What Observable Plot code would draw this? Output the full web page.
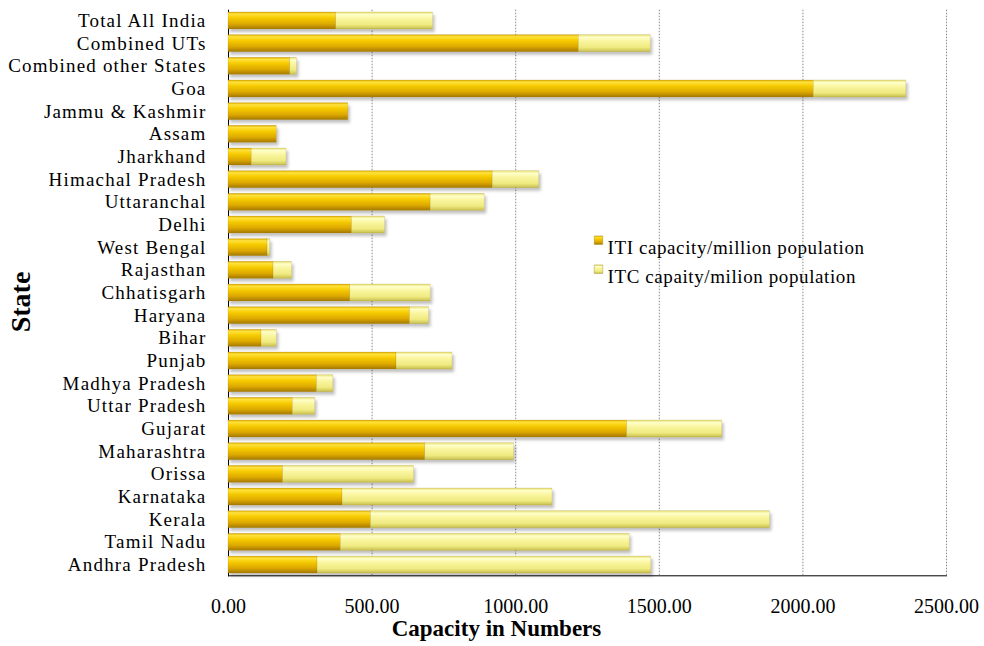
<!DOCTYPE html>
<html><head><meta charset="utf-8">
<script src="https://cdn.jsdelivr.net/npm/d3@7"></script>
<script src="https://cdn.jsdelivr.net/npm/@observablehq/plot@0.6"></script>
<style>body{margin:0;background:#fff}</style>
</head><body><div id="chart"></div>
<script>
const states = ["Total All India","Combined UTs","Combined other States","Goa","Jammu & Kashmir","Assam","Jharkhand","Himachal Pradesh","Uttaranchal","Delhi","West Bengal","Rajasthan","Chhatisgarh","Haryana","Bihar","Punjab","Madhya Pradesh","Uttar Pradesh","Gujarat","Maharashtra","Orissa","Karnataka","Kerala","Tamil Nadu","Andhra Pradesh"];
const itiCapacity = [375,1220,215,2038,417,168,81,920,704,430,136,157,424,632,115,585,308,224,1388,685,190,397,496,391,310];
const itcCapacity = [337,250,23,322,0,0,121,162,188,115,9,64,280,66,53,195,57,78,331,309,456,731,1389,1006,1162];
const seriesNames = ["ITI capacity/million population","ITC capaity/milion population"];
const xTicks = [0,500,1000,1500,2000,2500];
const gridLines = [500,1000,1500,2000,2500];
const xTitle = "Capacity in Numbers";
const yTitle = "State";

const rows = states.flatMap((s,i)=>[
  {state:s, series:seriesNames[0], value:itiCapacity[i]},
  {state:s, series:seriesNames[1], value:itcCapacity[i]}
]);

const fills = ["url(#gITI)","url(#gITC)"];
const legendY = [230, 259];

const svg = Plot.plot({
  width:984, height:646, marginTop:9.7, marginBottom:70.7, marginLeft:228, marginRight:38,
  style:{fontFamily:"'Liberation Serif','Times New Roman',serif", fontSize:"18px", color:"#000", background:"#fff", overflow:"visible"},
  x:{domain:[0,2500], ticks:xTicks, tickFormat:d=>d.toFixed(2), tickSize:0, tickPadding:23, label:null, line:true},
  y:{domain:states, paddingInner:0.25, paddingOuter:0.1, round:false, tickSize:0, tickPadding:22, label:null, line:true},
  color:{domain:seriesNames, range:fills},
  marks:[
    Plot.ruleX(gridLines, {stroke:"#8a8a8a", strokeDasharray:"1.5,1.5"}),
    Plot.barX(rows, Plot.stackX({y:"state", x:"value", fill:"series", stroke:"#8f6c00", strokeOpacity:0.25, strokeWidth:0.6})),
    ...seriesNames.map((name,i)=>Plot.dot([name], {frameAnchor:"top-left", dx:370, dy:legendY[i], symbol:"square", r:4.8, fill:fills[i], stroke:"#9a8000", strokeWidth:0.4})),
    ...seriesNames.map((name,i)=>Plot.text([name], {frameAnchor:"top-left", text:d=>d, dx:379, dy:legendY[i], textAnchor:"start", fontSize:19})),
    Plot.text([xTitle], {frameAnchor:"bottom-left", text:d=>d, dx:268, dy:60, textAnchor:"middle", fontWeight:"bold", fontSize:23}),
    Plot.text([yTitle], {frameAnchor:"left", text:d=>d, dx:-207, dy:9, rotate:-90, textAnchor:"middle", fontWeight:"bold", fontSize:28})
  ]
});

const s = d3.select(svg);
const defs = s.insert("defs", ":first-child");
function grad(id, stops){
  const g = defs.append("linearGradient").attr("id", id).attr("x1",0).attr("y1",0).attr("x2",0).attr("y2",1);
  stops.forEach(([o,c])=>g.append("stop").attr("offset",o).attr("stop-color",c));
}
grad("gITI", [[0,"#D9A800"],[0.12,"#FFE23C"],[0.35,"#F6CB00"],[0.7,"#DDA900"],[1,"#A57900"]]);
grad("gITC", [[0,"#E2DB6A"],[0.15,"#FFFFC9"],[0.4,"#F9F59E"],[0.75,"#EFEA80"],[1,"#C7BF4E"]]);
const f = defs.append("filter").attr("id","shadow").attr("x","-5%").attr("y","-30%").attr("width","110%").attr("height","180%");
f.append("feDropShadow").attr("dx",2).attr("dy",3).attr("stdDeviation",1.5).attr("flood-color","#000").attr("flood-opacity",0.25);
s.selectAll('g[aria-label="bar"]').attr("filter","url(#shadow)");
s.selectAll('[aria-label^="x-axis"] text').attr("font-size","20px");
s.selectAll('[aria-label^="y-axis"] text').attr("font-size","19px").attr("letter-spacing","1.2px");
s.selectAll('g[aria-label="text"] text').filter(function(){return seriesNames.includes(this.textContent);}).attr("letter-spacing","0.6px");
s.selectAll('[aria-label^="x-axis"] path, [aria-label^="y-axis"] path, [aria-label$="axis line"] line, [aria-label$="axis line"] path').attr("stroke","#8c8c8c");
document.getElementById("chart").appendChild(svg);
</script>
</body></html>
